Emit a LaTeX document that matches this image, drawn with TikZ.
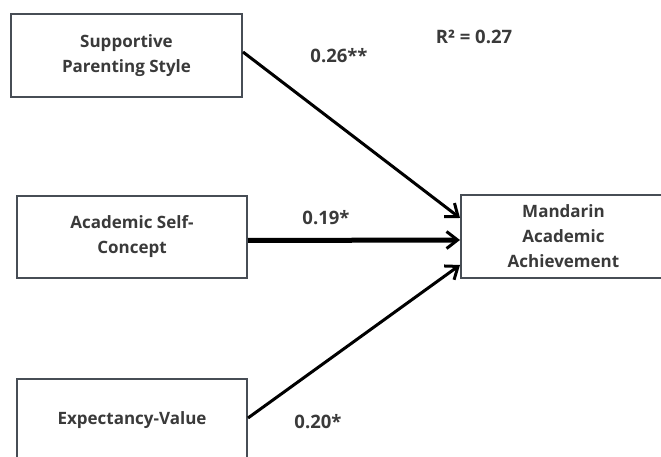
\documentclass[tikz,border=0pt]{standalone}
\usepackage{fontspec}
\setmainfont{Open Sans}
\usepackage{tikz}
\usetikzlibrary{arrows.meta,positioning}
\definecolor{boxgray}{HTML}{474D55}
\definecolor{textgray}{HTML}{3A3A3A}

\begin{document}
\begin{tikzpicture}[x=1pt,y=1pt]
        \tikzstyle{var}=[rectangle, line width=2pt, draw=boxgray, fill=white, inner sep=0pt, align=center, text=textgray, font=\fontsize{17}{25}\selectfont\bfseries]
        \tikzstyle{coef}=[inner sep=0pt, text=textgray, font=\fontsize{18.5}{22}\selectfont\bfseries]
        \tikzstyle{path}=[line width=3pt, black, -{Straight Barb[length=11pt,width=17pt,line width=3pt]}]
        \useasboundingbox (0,0) rectangle (661,457);
        \begin{scope}
          \node [var, minimum width=231pt, minimum height=83pt] (sps) at (126.5,401.5) {Supportive\\Parenting Style};
          \node [var, minimum width=230pt, minimum height=82pt] (asc) at (132,220) {Academic Self-\\Concept};
          \node [var, minimum width=230pt, minimum height=82pt] (ev) at (132,37) {Expectancy-Value};
          \node [var, minimum width=205pt, minimum height=83pt] (maa) at (563.5,220.5) {Mandarin\\Academic\\Achievement};
        \end{scope}
        \draw [path] ([yshift=3.5pt]sps.east) -- ([yshift=18.5pt]maa.west);
        \draw [path, line width=5pt] ([yshift=-3.5pt]asc.east) -- ([yshift=-3.5pt]maa.west);
        \draw [path] ([yshift=2pt]ev.east) -- ([yshift=-28.5pt]maa.west);
        \node [coef] (b1) at (339,401) {0.26**};
        \node [coef] (b2) at (326,239) {0.19*};
        \node [coef] (b3) at (318,35) {0.20*};
        \node [coef] (r2) at (474,420) {R² = 0.27};
      \end{tikzpicture}
\end{document}
